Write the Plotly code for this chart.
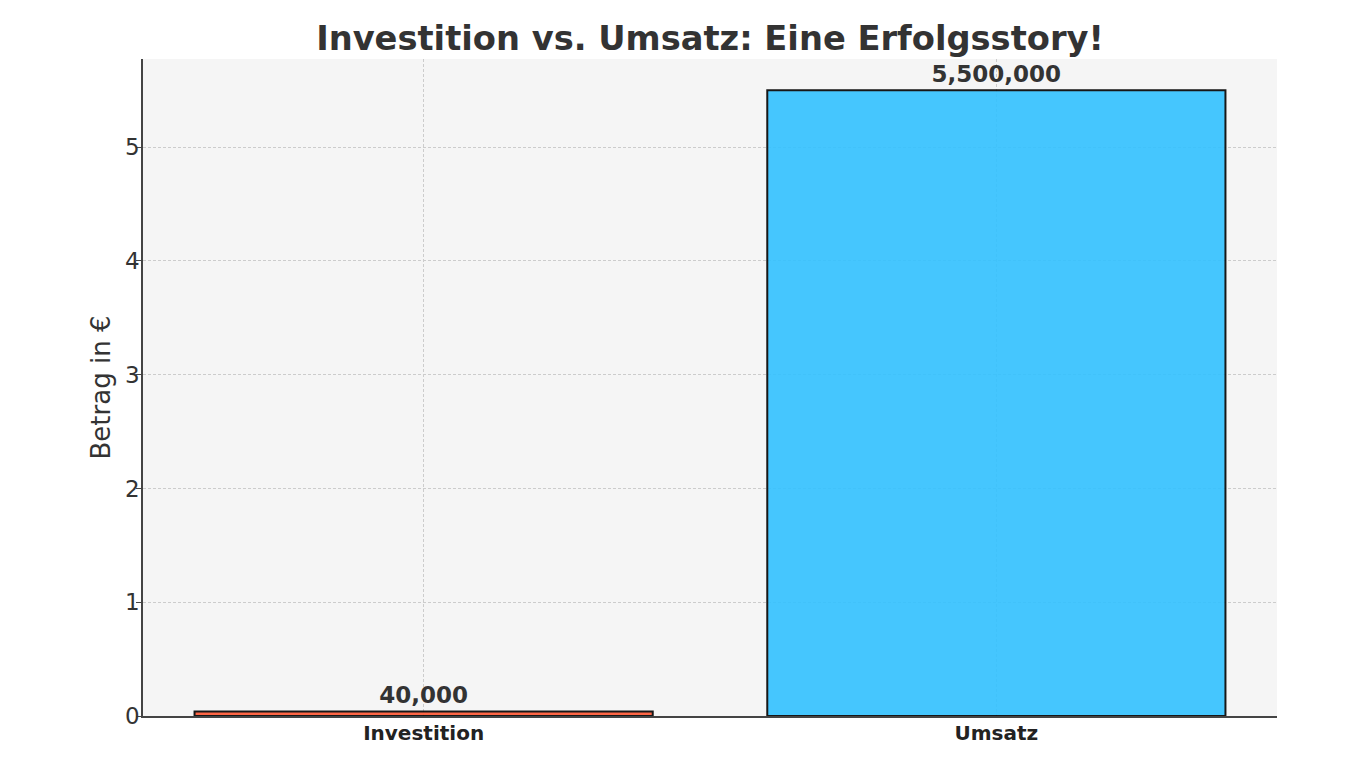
import plotly.graph_objects as go

# Daten
kategorien = ['Investition', 'Umsatz']
betraege = [40000, 5500000]
farben = ['#FF5733', '#33C1FF']
beschriftung = ['40,000', '5,500,000']

y_ticks = [0, 1000000, 2000000, 3000000, 4000000, 5000000]
y_tick_text = ['0', '1', '2', '3', '4', '5']

fig = go.Figure()

# Balken (leicht transparent, damit das Gitter durchscheint)
fig.add_trace(go.Bar(x=kategorien,
                     y=betraege,
                     width=0.8,
                     marker=dict(color=farben, line=dict(color='#000000', width=2), opacity=0.9),
                     text=beschriftung,
                     textposition='outside',
                     textfont=dict(family='DejaVu Sans', size=23, color='#333333'),
                     texttemplate='<b>%{text}</b>',
                     cliponaxis=False,
                     hoverinfo='skip'))

# die Seite hat 8px Rand, daher l/t etwas kleiner
fig.update_layout(
    width=1366, height=768,
    margin=dict(l=135, r=97, t=51, b=60),
    paper_bgcolor='white',
    plot_bgcolor='#F5F5F5',
    showlegend=False,
    font=dict(family='DejaVu Sans', color='#333333'),
    title=dict(text='<b>Investition vs. Umsatz: Eine Erfolgsstory!</b>',
               font=dict(family='DejaVu Sans', size=33.7, color='#333333'),
               x=0.5, xref='paper', xanchor='center',
               y=1, yref='paper', yanchor='bottom', pad=dict(b=9)),
)

# Achsentitel als Annotation, damit er näher an den Ticks sitzt
fig.add_annotation(text='Betrag in €', textangle=-90,
                   x=0, xref='paper', xanchor='center', xshift=-43,
                   y=0.5, yref='paper', yanchor='middle',
                   showarrow=False,
                   font=dict(family='DejaVu Sans', size=26, color='#333333'))

fig.update_xaxes(range=[-0.49, 1.49],
                 showline=True, linecolor='#444444', linewidth=1.5,
                 showgrid=True, gridcolor='#CCCCCC', griddash='3px,2px', gridwidth=1,
                 ticks='', tickfont=dict(family='DejaVu Sans', size=20, color='#222222'),
                 ticklabelstandoff=-2,
                 tickvals=kategorien, ticktext=['<b>' + k + '</b>' for k in kategorien],
                 zeroline=False)

fig.update_yaxes(range=[0, 5775000],
                 showline=True, linecolor='#444444', linewidth=1.5,
                 showgrid=True, gridcolor='#CCCCCC', griddash='3px,2px', gridwidth=1,
                 ticks='outside', ticklen=5, tickcolor='#444444',
                 ticklabelstandoff=-8,
                 tickvals=y_ticks, ticktext=y_tick_text,
                 tickfont=dict(family='DejaVu Sans', size=23, color='#333333'),
                 zeroline=False)

fig.write_html('out.html')
